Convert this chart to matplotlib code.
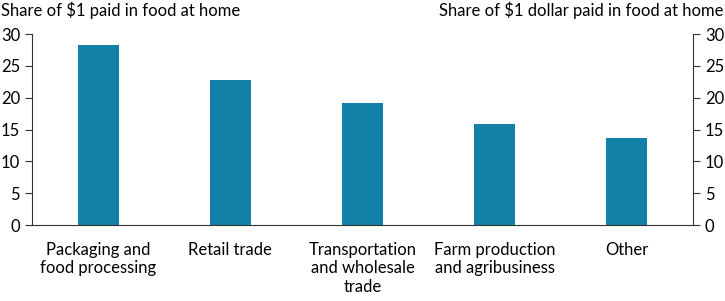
import matplotlib.pyplot as plt

categories = ["Packaging and\nfood processing", "Retail trade",
              "Transportation\nand wholesale\ntrade", "Farm production\nand agribusiness", "Other"]
shares = [28.3, 22.8, 19.2, 15.9, 13.7]

plt.rcParams['font.family'] = ['Lato', 'DejaVu Sans']
plt.rcParams['font.size'] = 12

fig, ax = plt.subplots(figsize=(7.25, 3.01), dpi=100)
fig.subplots_adjust(left=0.044, right=0.956, top=0.887, bottom=0.252)

x = range(len(categories))
ax.bar(x, shares, width=0.31, color='#1380a8')
ax.set_xlim(-0.5, len(categories) - 0.5)
ax.set_ylim(0, 30)
ax.set_yticks(range(0, 31, 5))
ax.set_xticks(list(x))
ax.set_xticklabels(categories)
ax.tick_params(axis='x', length=0, pad=12)
ax.tick_params(axis='y', direction='out', length=5, color='#333333')

for s in ['top']:
    ax.spines[s].set_visible(False)
ax.spines['right'].set_visible(False)
ax.spines['left'].set_color('#333333')
ax.spines['bottom'].set_color('#333333')

ax2 = ax.twinx()
ax2.set_ylim(0, 30)
ax2.set_yticks(range(0, 31, 5))
ax2.tick_params(axis='y', direction='out', length=5, color='#333333')
ax2.spines['top'].set_visible(False)
ax2.spines['left'].set_visible(False)
ax2.spines['bottom'].set_visible(False)
ax2.spines['right'].set_color('#333333')

fig.text(0.002, 0.995, "Share of $1 paid in food at home", ha='left', va='top')
fig.text(0.998, 0.995, "Share of $1 dollar paid in food at home", ha='right', va='top')

fig.savefig("out.png", dpi=100)
